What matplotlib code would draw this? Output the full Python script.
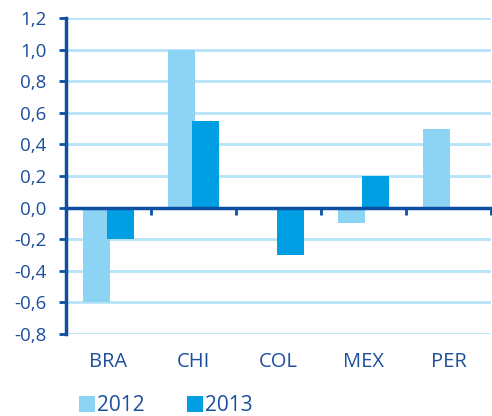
import matplotlib.pyplot as plt
import numpy as np

paises = ["BRA", "CHI", "COL", "MEX", "PER"]
v2012 = [-0.6, 1.0, 0.0, -0.1, 0.5]
v2013 = [-0.2, 0.55, -0.3, 0.2, 0.0]
yticks = [-0.8, -0.6, -0.4, -0.2, 0.0, 0.2, 0.4, 0.6, 0.8, 1.0, 1.2]

claro = '#8dd3f3'
oscuro = '#009fe3'
azul = '#0d4fa3'
texto = '#1c4f9c'
grilla = '#b5e4f8'

plt.rcParams['font.family'] = ['Open Sans', 'DejaVu Sans']

fig = plt.figure(figsize=(4.92, 4.16), dpi=100)
ax = fig.add_axes([66 / 492, 1 - 334 / 416, (491 - 66) / 492, (334 - 18) / 416])

x = np.arange(len(paises))
w = 0.32
ax.bar(x - 0.145, v2012, w, color=claro, label="2012", zorder=3)
ax.bar(x + 0.145, v2013, w, color=oscuro, label="2013", zorder=3)

ax.set_xlim(-0.5, len(paises) - 0.5)
ax.set_ylim(-0.8, 1.2)
ax.set_yticks(yticks)
ax.set_yticklabels([("%.1f" % t).replace(".", ",") for t in yticks])
ax.set_xticks(x)
ax.set_xticklabels(paises)

for t in yticks:
    if t != 0:
        ax.axhline(t, color=grilla, lw=2, zorder=1)

for s in ['top', 'right', 'bottom']:
    ax.spines[s].set_visible(False)
ax.spines['left'].set_color(azul)
ax.spines['left'].set_linewidth(2.5)

ax.tick_params(axis='y', colors=azul, labelcolor=texto, labelsize=13.5,
               length=5, width=2, pad=9, direction='out')
ax.tick_params(axis='x', length=0, labelcolor=texto, labelsize=14.5, pad=13)

# eje en cero con marcas entre categorias
sec = ax.secondary_xaxis((0 - (-0.8)) / 2.0)
sec.set_xticks(np.arange(len(paises)) + 0.5)
sec.set_xticklabels([])
sec.spines['bottom'].set_color(azul)
sec.spines['bottom'].set_linewidth(2.5)
sec.tick_params(axis='x', colors=azul, length=5, width=2, direction='out')
sec.set_zorder(4)

fig.legend(loc='lower left', bbox_to_anchor=(66 / 492, -0.03), ncol=2,
           frameon=False, fontsize=15, labelcolor=texto,
           handlelength=0.8, handleheight=0.8, handletextpad=0.1,
           columnspacing=2.0, borderaxespad=0.2)

fig.savefig("out.png", dpi=100)
